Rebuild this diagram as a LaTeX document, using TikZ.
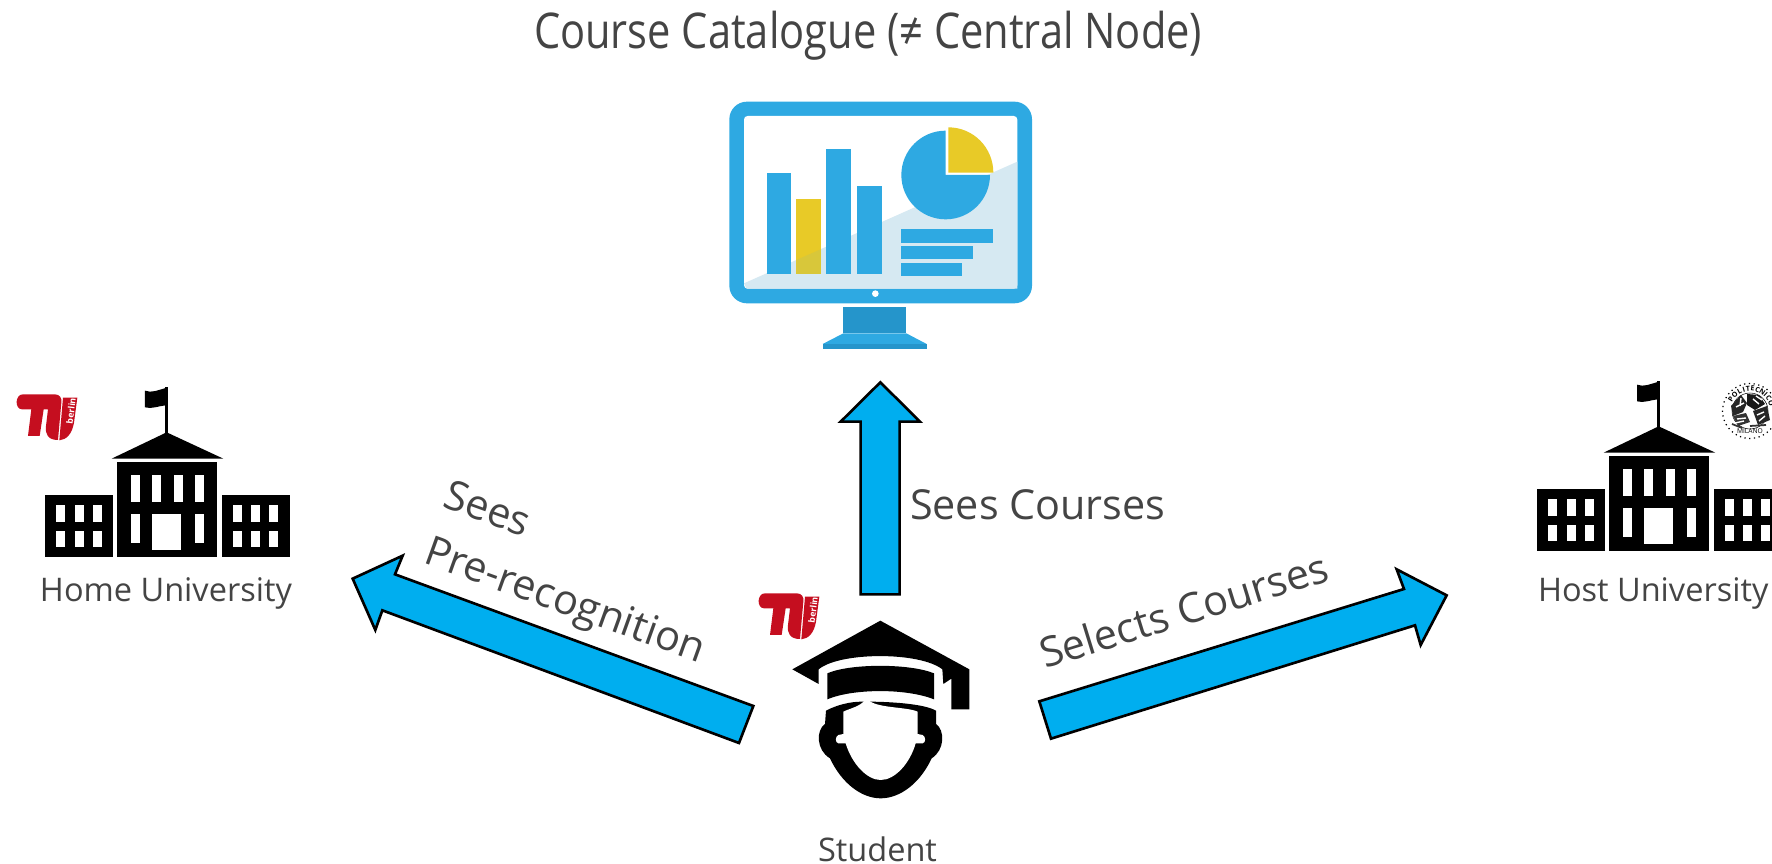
\documentclass[tikz,border=0pt]{standalone}
\usepackage{fontspec}
\setmainfont{Open Sans}
\definecolor{txt}{HTML}{444444}
\definecolor{arrowblue}{HTML}{00AEEF}
\definecolor{scr}{HTML}{2EA9E2}
\definecolor{scrdark}{HTML}{2595CB}
\definecolor{scrlight}{HTML}{D6E9F2}
\definecolor{scryellow}{HTML}{E8CA27}
\definecolor{scrmix}{HTML}{D8C73A}
\definecolor{tured}{HTML}{C50E1F}
\tikzset{
  lbl/.style={text=txt,inner sep=0pt,outer sep=0pt,anchor=base west},
  biglbl/.style={lbl,font=\fontsize{11.75pt}{14pt}\selectfont},
  smalllbl/.style={lbl,font=\fontsize{9.25pt}{11pt}\selectfont},
  bigarrow/.style={draw=black,line width=0.75pt,fill=arrowblue,line join=miter},
}
\newcommand{\buildingicon}[2]{%
\begin{scope}[shift={(#1,#2)},scale=1/3]
  \fill[black] (135,374) rectangle (338,562);
  \fill[black] (350,277) rectangle (650,562);
  \fill[black] (667,374) rectangle (870,562);
  \fill[black] (335,266) -- (500,187) -- (670,266) -- cycle;
  \fill[black] (495,50) rectangle (505,190);
  \fill[black] (435,62) .. controls (455,70) and (475,60) .. (497,54) -- (497,106) .. controls (475,108) and (455,118) .. (435,112) -- cycle;
  \foreach \xa in {167,226,280,698,752,806}{
    \fill[white] (\xa,406) rectangle ++(27,49);
    \fill[white] (\xa,482) rectangle ++(27,49);
  }
  \foreach \xa in {392,457,521,585}{
    \fill[white] (\xa,315) rectangle ++(27,80);
  }
  \fill[white] (392,433) rectangle ++(27,87);
  \fill[white] (585,433) rectangle ++(27,87);
  \fill[white] (457,433) rectangle (543,540);
\end{scope}}
\newcommand{\tulogo}[2]{%
\begin{scope}[shift={(#1,#2)},scale=1/3]
  \fill[tured] (75,40) -- (170,40) .. controls (185,40) and (192,50) .. (190,65) -- (180,177) .. controls (150,177) and (141,160) .. (144,135) -- (150,85) -- (137,85) -- (125,165) -- (90,165) -- (100,85) -- (72,85) .. controls (50,85) and (50,40) .. (75,40) -- cycle;
  \fill[tured] (195,50) -- (238,50) -- (228,125) .. controls (222,160) and (205,176) .. (184,178) -- cycle;
  \node[text=white,inner sep=0pt,rotate=83,font=\bfseries\fontsize{2.5pt}{3pt}\selectfont] at (219,90) {berlin};
\end{scope}}
\begin{document}
\begin{tikzpicture}[x=0.01cm,y=-0.01cm]
\useasboundingbox (0,0) rectangle (1772,864);
\clip (0,0) rectangle (1772,864);

% title
\node[lbl,font=\fontsize{14pt}{17pt}\selectfont] (title) at (534,49) {\scalebox{0.845}[1]{Course Catalogue (≠ Central Node)}};

% monitor
\begin{scope}[shift={(700,80)},scale=1/3]
  \fill[scr,rounded corners=5pt] (88,65) rectangle (996,670);
  \fill[white,rounded corners=1pt] (132,108) rectangle (952,626);
  \fill[scrlight] (132,610) -- (952,245) -- (952,626) -- (140,626) -- cycle;
  \fill[scr] (200,280) rectangle (273,582);
  \fill[scryellow] (289,357) rectangle (362,582);
  \fill[scrmix] (289,540) -- (362,508) -- (362,582) -- (289,582) -- cycle;
  \fill[scr] (379,208) rectangle (452,583);
  \fill[scr] (472,318) rectangle (546,582);
  \fill[scr] (737,285) -- (737,152) .. controls (663.5,152) and (604,211.5) .. (604,285) .. controls (604,358.5) and (663.5,418) .. (737,418) .. controls (810.5,418) and (870,358.5) .. (870,285) -- cycle;
  \fill[scryellow] (745,278) -- (745,142) .. controls (820,142) and (880,203) .. (880,278) -- cycle;
  \fill[scr] (602,447) rectangle (880,488);
  \fill[scr] (602,497) rectangle (820,537);
  \fill[scr] (602,548) rectangle (785,589);
  \fill[white] (526,641) circle[radius=10];
  \fill[scrdark] (430,680) rectangle (619,760);
  \fill[scr] (430,760) -- (619,760) -- (680,792) -- (368,792) -- cycle;
  \fill[scrdark] (368,792) rectangle (680,808);
\end{scope}

% buildings
\buildingicon{0}{370}
\buildingicon{1492}{364}
\tulogo{-2}{381}
\tulogo{740}{580}

% seal
\begin{scope}[shift={(1750,411)}]
  \draw[black,line width=0.35pt,densely dotted] (0,0) circle[radius=27.5];
  \draw[black,line width=0.15pt] (0,0) circle[radius=18];
  \foreach \c/\a in {P/148,O/133,L/118,I/106,T/95,E/83,C/70,N/57,I/46,C/34,O/20}{
    \node[inner sep=0pt,rotate=\a-90,font=\bfseries\fontsize{2pt}{2pt}\selectfont] at ({22.5*cos(\a)},{-22.5*sin(\a)}) {\c};
  }
  \node[inner sep=0pt,font=\fontsize{1.9pt}{2pt}\selectfont] at (0,20.5) {MILANO};
  \fill[black!85] (-19,-5) -- (-9,-16) -- (-3,-8) -- (-7,1) -- (-17,5) -- cycle;
  \fill[black!90] (-3,-17) -- (9,-16) -- (15,-7) -- (5,-1) -- (-3,-6) -- cycle;
  \fill[black!80] (-17,5) -- (-4,2) -- (0,11) -- (-12,15) -- cycle;
  \fill[black!85] (3,0) -- (17,-5) -- (20,9) -- (8,14) -- cycle;
  \draw[white,line width=0.4pt] (-14,-4) -- (-6,-8) (-13,8) -- (-4,7) (3,-12) -- (9,-7) (7,4) -- (14,1) (9,10) -- (15,5) (-2,-3) -- (2,9) (-9,-13) -- (-10,-5) (6,-15) -- (12,-11) (-15,12) -- (-6,10);
  \draw[black!80,line width=0.5pt] (-18,13) -- (-8,17) (0,15) -- (16,14);
\end{scope}

% student
\begin{scope}[shift={(740,580)},scale=1/3]
  \fill[black] (421,122) -- (688,268) -- (688,388) -- (634,388) -- (634,296) -- (610,312) -- (607,268) .. controls (540,215) and (300,215) .. (236,268) -- (236,312) -- (157,268) -- cycle;
  \fill[black] (262,280) .. controls (330,250) and (510,250) .. (582,280) -- (582,358) .. controls (500,325) and (340,325) .. (262,358) -- cycle;
  \fill[black] (258,392) .. controls (290,375) and (330,365) .. (365,365) -- (385,365) .. controls (440,365) and (550,370) .. (588,392) -- (588,432) .. controls (615,450) and (615,510) .. (575,535) .. controls (540,610) and (480,655) .. (422,655) .. controls (365,655) and (305,610) .. (270,535) .. controls (228,510) and (228,450) .. (255,432) -- cycle;
  \fill[white] (375,360) .. controls (360,380) and (330,385) .. (310,395) -- (310,462) -- (295,465) .. controls (285,470) and (285,488) .. (295,490) -- (317,490) .. controls (335,550) and (380,600) .. (422,600) .. controls (465,600) and (510,550) .. (527,490) -- (548,490) .. controls (558,488) and (558,470) .. (548,465) -- (533,462) -- (533,395) .. controls (500,380) and (410,385) .. (385,360) -- cycle;
\end{scope}

% arrows
\begin{scope}[shift={(820,370)},scale=1/3]
  \draw[bigarrow] (181,37) -- (300,155) -- (239,155) -- (239,673) -- (122,673) -- (122,155) -- (62,155) -- cycle;
\end{scope}
\begin{scope}[shift={(340,460)},scale=1/3]
  \draw[bigarrow] (38,356) -- (188,287) -- (165,343) -- (1240,738) -- (1197,849) -- (127,451) -- (106,510) -- cycle;
\end{scope}
\begin{scope}[shift={(1020,540)},scale=1/3]
  \draw[bigarrow] (58,484) -- (1152,147) -- (1130,88) -- (1280,166) -- (1202,315) -- (1185,256) -- (93,596) -- cycle;
\end{scope}

% labels
\node[biglbl] (seescourses) at (910,520) {Sees Courses};
\node[biglbl,rotate=17.2] (selects) at (1045,669) {Selects Courses};
\node[biglbl,rotate=-19.8] (sees) at (441,507) {Sees};
\node[biglbl,rotate=-19.8] (prerec) at (422,563) {Pre-recognition};
\node[smalllbl] (home) at (40,602) {Home University};
\node[smalllbl] (host) at (1538,602) {Host University};
\node[smalllbl] (student) at (818,861) {Student};
\end{tikzpicture}
\end{document}
